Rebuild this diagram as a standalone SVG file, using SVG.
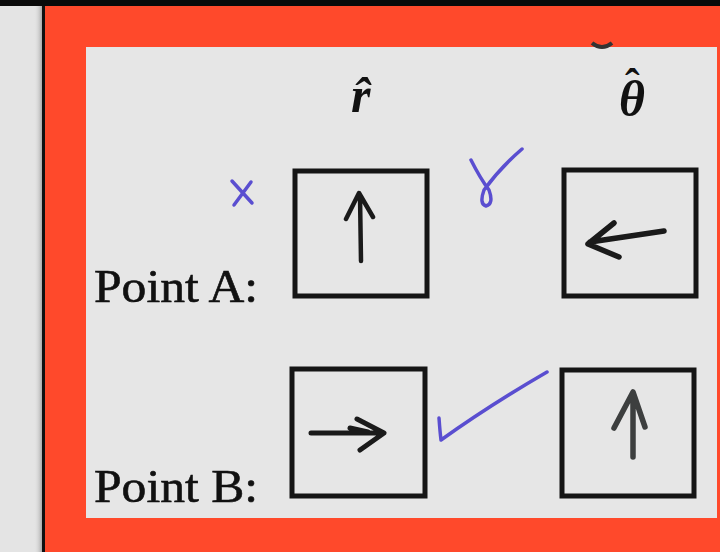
<svg xmlns="http://www.w3.org/2000/svg" width="720" height="552" viewBox="0 0 720 552">
<style>
.lbl{font-family:"Liberation Serif","Times New Roman",serif;font-size:47px;fill:#111;stroke:#111;stroke-width:0.6}
.hd{font-family:"Liberation Serif","Times New Roman",serif;font-size:50px;font-weight:bold;font-style:italic;fill:#111}
.hat{font-size:44px;font-style:normal}
.box{fill:none;stroke:#151515;stroke-width:5}
.arr{fill:none;stroke:#1a1a1a;stroke-width:4.5;stroke-linecap:round;stroke-linejoin:round}
.ink{fill:none;stroke:#5a4ed0;stroke-width:3.5;stroke-linecap:round;stroke-linejoin:round}
</style>
<defs>
<linearGradient id="shadow" x1="0" x2="1" y1="0" y2="0">
<stop offset="0" stop-color="#e4e4e4" stop-opacity="0"/>
<stop offset="1" stop-color="#9a9a9a"/>
</linearGradient>
</defs>
<rect x="0" y="0" width="720" height="552" fill="#e4e4e4"/>
<rect x="34" y="6" width="9" height="546" fill="url(#shadow)"/>
<rect x="0" y="0" width="720" height="6" fill="#0a0a0a"/>
<rect x="42" y="6" width="3" height="546" fill="#111"/>
<rect x="45" y="6" width="675" height="546" fill="#ff492b"/>
<rect x="86" y="47" width="631" height="471" fill="#e6e6e6"/>
<path d="M592 43 Q602 51 612 43" fill="none" stroke="#333" stroke-width="4"/>

<g id="header-r"><text class="hd" x="351" y="112">r̂</text></g>
<g id="header-theta"><text class="hd" x="619" y="116">θ<tspan class="hat" x="625" y="99">ˆ</tspan></text></g>

<g id="label-a"><text class="lbl" x="94" y="302" textLength="164" lengthAdjust="spacingAndGlyphs">Point A:</text></g>
<g id="label-b"><text class="lbl" x="94" y="502" textLength="164" lengthAdjust="spacingAndGlyphs">Point B:</text></g>

<g id="box-a-r">
<rect class="box" x="295" y="171" width="132" height="125"/>
<path class="arr" d="M361 261 L360 195 M346 219 L359 193 L373 217"/>
</g>
<g id="box-a-theta">
<rect class="box" x="564" y="170" width="132" height="126"/>
<path class="arr" d="M664 231 L590 242 M614 223 L588 244 L619 257" style="stroke-width:5.5"/>
</g>
<g id="box-b-r">
<rect class="box" x="292" y="369" width="133" height="127"/>
<path class="arr" d="M311 433 L383 433 M357 419 L384 433 L360 450 M350 428 L368 432" style="stroke-width:5"/>
</g>
<g id="box-b-theta">
<rect class="box" x="562" y="370" width="132" height="126"/>
<path class="arr" d="M633 457 L633 394 M614 428 L633 392 L645 427" style="stroke:#3d3f3f;stroke-width:5.5"/>
</g>

<g id="marks">
<path class="ink" d="M232 181 L252 203 M251 182 L234 205"/>
<path class="ink" d="M471 160 Q480 178 489 190 Q494 204 486 206 Q479 204 484 190 Q500 168 522 149"/>
<path class="ink" d="M439 418 Q440 432 441 440 Q490 405 547 372"/>
</g>
</svg>
